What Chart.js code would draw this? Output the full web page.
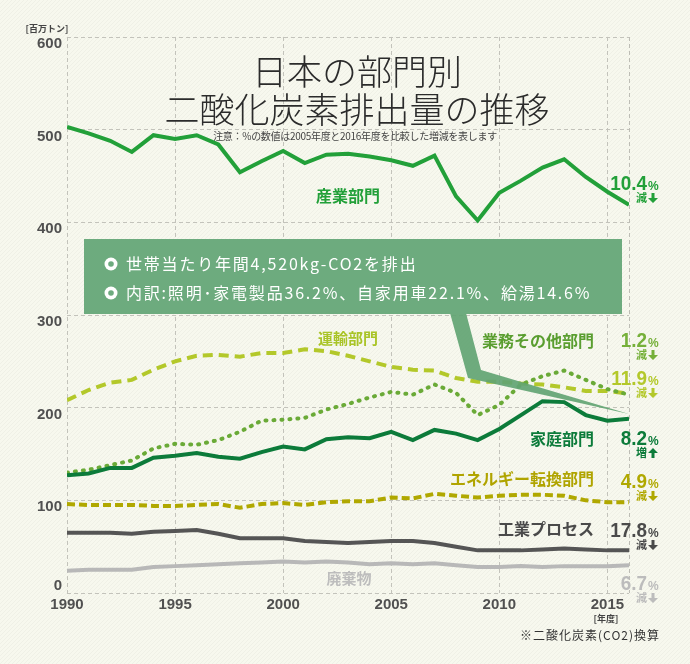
<!DOCTYPE html>
<html>
<head>
<meta charset="utf-8">
<script src="https://cdn.jsdelivr.net/npm/chart.js@4.4.0/dist/chart.umd.min.js"></script>
<style>
html, body { margin: 0; padding: 0; background: #f7f8ee; }
#wrap { width: 690px; height: 664px; }
</style>
</head>
<body>
<div id="wrap"><canvas id="myChart" width="690" height="664"></canvas></div>
<script>
// 年度
var years = [1990, 1991, 1992, 1993, 1994, 1995, 1996, 1997, 1998, 1999, 2000, 2001, 2002, 2003,
    2004, 2005, 2006, 2007, 2008, 2009, 2010, 2011, 2012, 2013, 2014, 2015, 2016];
var yTicks = [0, 100, 200, 300, 400, 500, 600];
var xTicks = [1990, 1995, 2000, 2005, 2010, 2015];

// 百万トン
var sangyo = [503, 496, 488, 476, 494, 490, 494, 484, 454, 466, 477, 464, 473, 474, 471, 467, 461, 472, 428, 402, 432, 445, 459, 468, 449, 433, 419];
var unyu = [208, 219, 227, 230, 241, 250, 256, 257, 255, 259, 259, 263, 261, 256, 250, 244, 241, 240, 232, 228, 228, 226, 225, 222, 218, 218, 215];
var gyomu = [130, 133, 138, 143, 156, 161, 160, 165, 174, 186, 187, 189, 198, 204, 211, 217, 214, 225, 216, 192, 203, 225, 234, 240, 230, 220, 214];
var katei = [127, 129, 135, 135, 146, 148, 151, 147, 145, 152, 158, 155, 166, 168, 167, 174, 165, 176, 172, 165, 177, 192, 207, 206, 192, 186, 188];
var tenkan = [96, 95, 95, 95, 94, 94, 95, 96, 92, 96, 97, 95, 98, 99, 99, 103, 102, 107, 105, 103, 105, 106, 106, 105, 100, 98, 98];
var kogyo = [65, 65, 65, 64, 66, 67, 68, 64, 59, 59, 59, 56, 55, 54, 55, 56, 56, 54, 50, 46, 46, 46, 47, 48, 47, 46, 46];
var haiki = [24, 25, 25, 25, 28, 29, 30, 31, 32, 33, 34, 33, 34, 33, 31, 32, 31, 32, 30, 28, 28, 29, 28, 29, 29, 29, 30];

// 2005年度比の増減
var changes = [
    { num: "10.4", word: "減", up: false, color: "#22a039", y: 190 },
    { num: "1.2", word: "減", up: false, color: "#76b03a", y: 347 },
    { num: "11.9", word: "減", up: false, color: "#b3c82a", y: 385 },
    { num: "8.2", word: "増", up: true, color: "#0c7b3a", y: 445 },
    { num: "4.9", word: "減", up: false, color: "#b0a800", y: 488 },
    { num: "17.8", word: "減", up: false, color: "#4a4a4a", y: 537 },
    { num: "6.7", word: "減", up: false, color: "#bcbcbc", y: 590 }
];

function pts(arr) {
    return years.map(function (yr, i) { return { x: yr, y: arr[i] }; });
}

function line(label, arr, color, dash, width) {
    return {
        label: label,
        data: pts(arr),
        borderColor: color,
        backgroundColor: color,
        borderWidth: width || 4,
        borderDash: dash || [],
        borderCapStyle: dash && dash[0] < 3 ? 'round' : 'butt',
        pointRadius: 0,
        tension: 0,
        fill: false
    };
}

var JP = '"Noto Sans CJK JP", "Noto Sans", sans-serif';
var NUM = '"Liberation Sans", Arial, sans-serif';

function txt(ctx, s, x, y, font, color, align, spacing) {
    ctx.save();
    ctx.font = font;
    ctx.fillStyle = color;
    ctx.textAlign = align || 'left';
    ctx.textBaseline = 'alphabetic';
    if (spacing) ctx.letterSpacing = spacing;
    ctx.fillText(s, x, y);
    ctx.restore();
}

function arrow(ctx, x, y, up, color) {
    // 矢印 (幅10, 高さ10)
    ctx.save();
    ctx.fillStyle = color;
    ctx.beginPath();
    if (!up) {
        ctx.rect(x + 3.5, y, 3, 5);
        ctx.moveTo(x, y + 5); ctx.lineTo(x + 10, y + 5); ctx.lineTo(x + 5, y + 10);
    } else {
        ctx.moveTo(x, y + 5); ctx.lineTo(x + 10, y + 5); ctx.lineTo(x + 5, y);
        ctx.rect(x + 3.5, y + 5, 3, 5);
    }
    ctx.fill();
    ctx.restore();
}

var deco = {
    id: 'deco',
    beforeDraw: function (chart) {
        var ctx = chart.ctx;
        ctx.save();
        ctx.fillStyle = '#f7f8ee';
        ctx.fillRect(0, 0, chart.width, chart.height);
        ctx.strokeStyle = 'rgba(0,0,0,0.03)';
        ctx.lineWidth = 1;
        ctx.beginPath();
        for (var i = -chart.height; i < chart.width; i += 4) {
            ctx.moveTo(i, chart.height);
            ctx.lineTo(i + chart.height, 0);
        }
        ctx.stroke();
        ctx.restore();
    },
    beforeDatasetsDraw: function (chart) {
        var ctx = chart.ctx, a = chart.chartArea;
        ctx.save();
        ctx.strokeStyle = '#bdbdb5';
        ctx.lineWidth = 1;
        ctx.setLineDash([4, 3]);
        ctx.beginPath();
        ctx.moveTo(a.right + 0.5, a.top);
        ctx.lineTo(a.right + 0.5, a.bottom);
        ctx.stroke();
        ctx.restore();
    },
    afterDatasetsDraw: function (chart) {
        var ctx = chart.ctx;

        // タイトル
        txt(ctx, '日本の部門別', 357, 85, '300 35px ' + JP, '#2b2b2b', 'center');
        txt(ctx, '二酸化炭素排出量の推移', 357, 123, '300 35px ' + JP, '#2b2b2b', 'center');
        txt(ctx, '注意：%の数値は2005年度と2016年度を比較した増減を表します', 355, 140, '10px ' + JP, '#444', 'center', '-0.3px');

        // 軸の単位
        txt(ctx, '[百万トン]', 47, 32, 'bold 9px ' + JP, '#444', 'center');
        txt(ctx, '[年度]', 606, 622, 'bold 9px ' + JP, '#444', 'center');
        txt(ctx, '※二酸化炭素(CO2)換算', 660, 640, '12px ' + JP, '#333', 'right', '1px');

        // 系列名
        txt(ctx, '産業部門', 348, 202, 'bold 16px ' + JP, '#22a039', 'center');
        txt(ctx, '運輸部門', 348, 344, 'bold 15px ' + JP, '#a9c427', 'center');
        txt(ctx, '業務その他部門', 594, 347, 'bold 16px ' + JP, '#5a9e30', 'right');
        txt(ctx, '家庭部門', 594, 445, 'bold 16px ' + JP, '#0c7b3a', 'right');
        txt(ctx, 'エネルギー転換部門', 594, 485, 'bold 16px ' + JP, '#b0a400', 'right');
        txt(ctx, '工業プロセス', 594, 535, 'bold 16px ' + JP, '#4a4a4a', 'right');
        txt(ctx, '廃棄物', 349, 584, 'bold 15px ' + JP, '#bdbdbd', 'center');

        // 増減率
        changes.forEach(function (c) {
            ctx.save();
            ctx.font = 'bold 21px ' + NUM;
            ctx.fillStyle = c.color;
            ctx.textAlign = 'right';
            ctx.translate(647, c.y);
            ctx.scale(0.9, 1);
            ctx.fillText(c.num, 0, 0);
            ctx.restore();
            txt(ctx, '%', 648, c.y, 'bold 12px ' + NUM, c.color, 'left');
            txt(ctx, c.word, 647, c.y + 12, 'bold 11px ' + JP, c.color, 'right');
            arrow(ctx, 648, c.y + 3, c.up, c.color);
        });

        // 吹き出し
        ctx.save();
        ctx.fillStyle = 'rgba(98,164,115,0.92)';
        ctx.beginPath();
        ctx.moveTo(450, 313);
        ctx.lineTo(466, 313);
        ctx.lineTo(481, 370);
        ctx.lineTo(629, 414);
        ctx.lineTo(468, 378);
        ctx.closePath();
        ctx.fill();
        ctx.fillStyle = '#6dab7e';
        ctx.fillRect(84, 239, 538, 75);
        ctx.restore();

        [264, 293].forEach(function (cy) {
            ctx.save();
            ctx.fillStyle = '#fff';
            ctx.beginPath();
            ctx.arc(111, cy, 6.5, 0, Math.PI * 2);
            ctx.fill();
            ctx.fillStyle = '#6dab7e';
            ctx.beginPath();
            ctx.arc(111, cy, 2.8, 0, Math.PI * 2);
            ctx.fill();
            ctx.restore();
        });
        txt(ctx, '世帯当たり年間4,520kg-CO2を排出', 126, 270, '16px ' + JP, '#fff', 'left', '1.8px');
        txt(ctx, '内訳:照明･家電製品36.2%、自家用車22.1%、給湯14.6%', 126, 299, '16px ' + JP, '#fff', 'left', '1.8px');
    }
};

window.onload = function () {
    var ctx = document.getElementById('myChart').getContext('2d');
    var gridCol = '#c3c3bb';
    new Chart(ctx, {
        type: 'line',
        data: {
            datasets: [
                line('家庭部門', katei, '#0c7b3a'),
                line('業務その他部門', gyomu, '#6aaa37', [1, 7], 4),
                line('産業部門', sangyo, '#22a039'),
                line('運輸部門', unyu, '#b3c82a', [10, 6]),
                line('エネルギー転換部門', tenkan, '#b0a800', [8, 4]),
                line('工業プロセス', kogyo, '#555555'),
                line('廃棄物', haiki, '#b8b8b8')
            ]
        },
        options: {
            responsive: false,
            animation: false,
            layout: { padding: { left: 0, right: 61, top: 37, bottom: 0 } },
            plugins: {
                legend: { display: false },
                tooltip: { enabled: false }
            },
            scales: {
                x: {
                    type: 'linear',
                    min: 1990,
                    max: 2016,
                    afterFit: function (scale) { scale.height = 71; },
                    afterBuildTicks: function (scale) {
                        scale.ticks = xTicks.map(function (v) { return { value: v }; });
                    },
                    ticks: {
                        autoSkip: false,
                        maxRotation: 0,
                        padding: 3,
                        color: '#505050',
                        font: { family: NUM, weight: 'bold', size: 15 },
                        callback: function (v) { return String(v); }
                    },
                    grid: { color: gridCol, lineWidth: 1, drawTicks: false },
                    border: { display: false, dash: [4, 3] }
                },
                y: {
                    min: 0,
                    max: 600,
                    afterFit: function (scale) { scale.width = 67; },
                    afterBuildTicks: function (scale) {
                        scale.ticks = yTicks.map(function (v) { return { value: v }; });
                    },
                    ticks: {
                        padding: 5,
                        color: '#505050',
                        font: { family: NUM, weight: 'bold', size: 15, lineHeight: 0.9 },
                        // 目盛りの数字は線の少し下に置かれている (0 だけ上)
                        callback: function (v) { return v === 0 ? ['0', ''] : ['', String(v)]; }
                    },
                    grid: { color: gridCol, lineWidth: 1, drawTicks: false },
                    border: { display: false, dash: [4, 3] }
                }
            }
        },
        plugins: [deco]
    });
};
</script>
</body>
</html>
